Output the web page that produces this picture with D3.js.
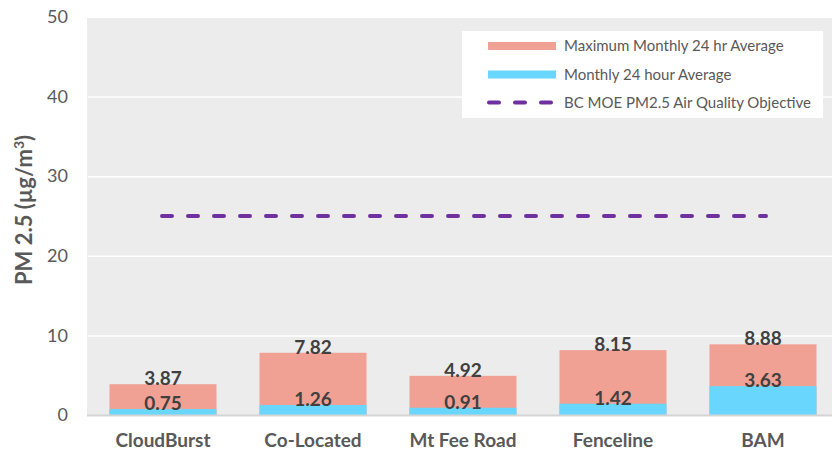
<!DOCTYPE html>
<html>
<head>
<meta charset="utf-8">
<script src="https://cdn.jsdelivr.net/npm/d3@7"></script>
<style>
    html, body { margin: 0; padding: 0; background: #ffffff; }
    svg { display: block; font-family: Lato, 'Open Sans', sans-serif; }
</style>
</head>
<body>
<div id="chart"></div>
<script>
//Datos del gráfico
const CATEGORIES = ['CloudBurst', 'Co-Located', 'Mt Fee Road', 'Fenceline', 'BAM'];
const MAX_MONTHLY = [3.87, 7.82, 4.92, 8.15, 8.88];
const MONTHLY_AVG = [0.75, 1.26, 0.91, 1.42, 3.63];
const OBJECTIVE = 25;
const Y_TICKS = [0, 10, 20, 30, 40, 50];
const LEGEND_LABELS = ['Maximum Monthly 24 hr Average', 'Monthly 24 hour Average', 'BC MOE PM2.5 Air Quality Objective'];

//Colores fijos
const COLOR_PINK = '#f1a194',
COLOR_BLUE = '#69d7fd',
COLOR_PURPLE = '#7030a0',
COLOR_BG = '#ececec',
COLOR_TEXT = '#595959',
COLOR_LABEL = '#404040';

let width = 832, height = 453;
let margin = {top: 17, right: -6, bottom: 38, left: 88};

let svg = d3.select('#chart')
    .append('svg')
    .attr('width', width)
    .attr('height', height);

let x = d3.scaleBand()
    .domain(CATEGORIES)
    .range([margin.left, width - margin.right])
    .paddingInner(0.2867)
    .paddingOuter(0.1433);

let y = d3.scaleLinear()
    .domain([0, 50])
    .range([height - margin.bottom, margin.top]);

//Fondo del área de gráfico
svg.append('rect')
    .attr('x', margin.left - 1)
    .attr('y', y(50) + 1)
    .attr('width', width - margin.left + 1)
    .attr('height', y(0) - y(50) - 1)
    .attr('fill', COLOR_BG);

//Eje Y con líneas de cuadrícula
let yAxis = function(g) {
    g.call(d3.axisLeft(y).tickValues(Y_TICKS).tickSize(0).tickPadding(0));
    g.select('.domain').remove();
    g.selectAll('.tick text')
        .attr('x', -20)
        .attr('fill', COLOR_TEXT)
        .style('font-family', 'Lato, sans-serif')
        .style('font-size', '18px');
    g.selectAll('.tick')
        .filter(function(d) { return d > 0 && d < 50; })
        .append('line')
        .attr('x1', 0)
        .attr('x2', width - margin.left)
        .attr('stroke', '#ffffff')
        .attr('stroke-width', 1.5);
};

svg.append('g')
    .attr('transform', 'translate(' + margin.left + ',0)')
    .call(yAxis);

//Título del eje Y
let yTitle = svg.append('text')
    .attr('transform', 'translate(32,' + 210 + ') rotate(-90)')
    .attr('text-anchor', 'middle')
    .attr('fill', COLOR_TEXT)
    .style('font-size', '22px')
    .style('font-weight', 'bold');
yTitle.append('tspan').text('PM 2.5 (µg/m');
yTitle.append('tspan').attr('dy', -8).style('font-size', '14px').text('3');
yTitle.append('tspan').attr('dy', 8).text(')');

//Barras apiladas
let bars = svg.append('g');
bars.selectAll('.bar-max')
    .data(CATEGORIES)
    .enter()
    .append('rect')
    .attr('x', function(d) { return x(d); })
    .attr('y', function(d, i) { return y(MAX_MONTHLY[i]); })
    .attr('width', x.bandwidth())
    .attr('height', function(d, i) { return y(0) - y(MAX_MONTHLY[i]); })
    .attr('fill', COLOR_PINK);

bars.selectAll('.bar-avg')
    .data(CATEGORIES)
    .enter()
    .append('rect')
    .attr('x', function(d) { return x(d); })
    .attr('y', function(d, i) { return y(MONTHLY_AVG[i]); })
    .attr('width', x.bandwidth())
    .attr('height', function(d, i) { return y(0) - y(MONTHLY_AVG[i]); })
    .attr('fill', COLOR_BLUE);

//Línea base
svg.append('line')
    .attr('x1', margin.left - 1)
    .attr('x2', width)
    .attr('y1', y(0) + 0.5)
    .attr('y2', y(0) + 0.5)
    .attr('stroke', '#d4d4d4')
    .attr('stroke-width', 2);

//Etiquetas de valores
let labelData = [];
CATEGORIES.forEach(function(c, i) {
    labelData.push({cat: c, v: MAX_MONTHLY[i]});
    labelData.push({cat: c, v: MONTHLY_AVG[i]});
});

svg.selectAll('.value-label')
    .data(labelData)
    .enter()
    .append('text')
    .attr('x', function(d) { return x(d.cat) + x.bandwidth() / 2; })
    .attr('y', function(d) { return y(d.v) + 1; })
    .attr('text-anchor', 'middle')
    .attr('fill', COLOR_LABEL)
    .style('font-size', '19px')
    .style('font-weight', 'bold')
    .text(function(d) { return d.v.toFixed(2); });

//Línea del objetivo
svg.append('line')
    .attr('x1', x(CATEGORIES[0]) + x.bandwidth() / 2 - 1)
    .attr('x2', x(CATEGORIES[CATEGORIES.length - 1]) + x.bandwidth() / 2 + 3)
    .attr('y1', y(OBJECTIVE))
    .attr('y2', y(OBJECTIVE))
    .attr('stroke', COLOR_PURPLE)
    .attr('stroke-width', 4)
    .attr('stroke-linecap', 'round')
    .attr('stroke-dasharray', '10,16');

//Etiquetas de categorías
svg.selectAll('.cat-label')
    .data(CATEGORIES)
    .enter()
    .append('text')
    .attr('x', function(d) { return x(d) + x.bandwidth() / 2; })
    .attr('y', 447)
    .attr('text-anchor', 'middle')
    .attr('fill', COLOR_TEXT)
    .style('font-size', '19px')
    .style('font-weight', 'bold')
    .text(function(d) { return d; });

//Leyenda
let legend = svg.append('g');
legend.append('rect')
    .attr('x', 462)
    .attr('y', 31)
    .attr('width', 361)
    .attr('height', 87)
    .attr('fill', '#ffffff');

let legendY = [46, 74.5, 102.5];
legend.append('rect')
    .attr('x', 488).attr('y', legendY[0] - 4)
    .attr('width', 68).attr('height', 8)
    .attr('fill', COLOR_PINK);
legend.append('rect')
    .attr('x', 488).attr('y', legendY[1] - 4)
    .attr('width', 68).attr('height', 8)
    .attr('fill', COLOR_BLUE);
legend.append('line')
    .attr('x1', 489).attr('x2', 555)
    .attr('y1', legendY[2]).attr('y2', legendY[2])
    .attr('stroke', COLOR_PURPLE)
    .attr('stroke-width', 4)
    .attr('stroke-linecap', 'round')
    .attr('stroke-dasharray', '10,16');

legend.selectAll('.legend-text')
    .data(LEGEND_LABELS)
    .enter()
    .append('text')
    .attr('x', 564)
    .attr('y', function(d, i) { return legendY[i]; })
    .attr('dy', '0.35em')
    .attr('fill', COLOR_TEXT)
    .style('font-size', '15px')
    .text(function(d) { return d; });
</script>
</body>
</html>
